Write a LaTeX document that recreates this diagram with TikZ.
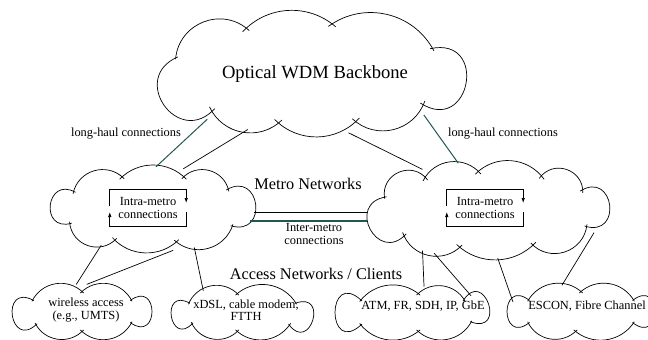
\documentclass[tikz,border=0pt]{standalone}
\usepackage{fontspec}
\setmainfont{Liberation Serif}
\usepackage{tikz}
\usetikzlibrary{shapes.geometric, arrows.meta, calc}
\definecolor{haulcolor}{RGB}{35, 85, 85}

% puffs of a cloud round node #1: base radii #2 and #3, puff height #4, list of angle pairs #5
\newcommand{\puffs}[5]{%
    \foreach \ta/\tb in {#5} {
        \pgfmathsetmacro{\sa}{\ta-1.5}
        \pgfmathsetmacro{\sb}{\tb+1.5}
        \pgfmathsetmacro{\tm}{(\ta+\tb)/2}
        \pgfmathsetmacro{\xa}{#2*cos(\sa)}
        \pgfmathsetmacro{\ya}{#3*sin(\sa)}
        \pgfmathsetmacro{\xb}{#2*cos(\sb)}
        \pgfmathsetmacro{\yb}{#3*sin(\sb)}
        \pgfmathsetmacro{\xt}{(#2+#4)*cos(\tm)}
        \pgfmathsetmacro{\yt}{(#3+#4)*sin(\tm)}
        \pgfmathsetmacro{\cc}{veclen((\xb)-(\xa), (\yb)-(\ya))}
        \pgfmathsetmacro{\hh}{veclen((\xt)-((\xa)+(\xb))/2, (\yt)-((\ya)+(\yb))/2)}
        \pgfmathsetmacro{\bn}{2*atan(2*\hh/\cc)}
        \pgfmathsetmacro{\kk}{4/3*\hh/sin(\bn)}
        \draw[puff] ($(#1)+(\sa:#2 and #3)$) to[bend left=\bn, distance=\kk pt] ($(#1)+(\sb:#2 and #3)$);
    }
}

\begin{document}
\begin{tikzpicture}[x=1pt, y=-1pt,
    net/.style={ellipse, inner sep=0pt},
    puff/.style={line width=0.7pt},
    bigtext/.style={font=\fontsize{18.6}{20}\selectfont},
    midtext/.style={font=\fontsize{16.3}{18}\selectfont},
    smalltext/.style={font=\fontsize{12.4}{12.2}\selectfont, align=center, inner sep=0pt},
    intra/.style={smalltext, minimum width=76pt, minimum height=37pt},
    link/.style={line width=0.7pt},
    haul/.style={line width=1pt, haulcolor},
    cyc/.style={-{Latex[length=5pt, width=3.5pt]}, line width=0.7pt}
]
    \useasboundingbox (0,0) rectangle (648,340);

    % Clouds
    \node[net, minimum width=309pt, minimum height=122pt] (bb) at (310,73.5) {};
    \node[net, minimum width=202pt, minimum height=84pt] (lm) at (153,209) {};
    \node[net, minimum width=241pt, minimum height=96pt] (rm) at (487.5,210) {};
    \node[net, minimum width=137pt, minimum height=54pt] (wl) at (82,311.5) {};
    \node[net, minimum width=140pt, minimum height=52pt] (xd) at (242.5,312.5) {};
    \node[net, minimum width=152pt, minimum height=52pt] (atm) at (412.5,312.5) {};
    \node[net, minimum width=145pt, minimum height=54pt] (esc) at (581,311.5) {};

    \puffs{bb}{141}{47.5}{16}{-30/37, 37/71, 71/103, 103/134, 134/199, 199/243, 243/279, 279/330}
    \puffs{lm}{91}{32}{12}{-35/30, 30/75, 75/115, 115/155, 155/210, 210/250, 250/290, 290/325}
    \puffs{rm}{108.5}{36}{14}{-30/25, 25/65, 65/105, 105/140, 140/200, 200/235, 235/265, 265/300, 300/330}
    \puffs{wl}{60}{18.5}{10}{-35/35, 35/90, 90/140, 140/215, 215/270, 270/325}
    \puffs{xd}{61.5}{17.5}{10}{-30/40, 40/95, 95/145, 145/210, 210/265, 265/330}
    \puffs{atm}{67.5}{17.5}{10}{-40/30, 30/85, 85/140, 140/220, 220/275, 275/320}
    \puffs{esc}{64}{18.5}{10}{-35/35, 35/95, 95/145, 145/215, 215/270, 270/325}

    % Labels
    \node[bigtext] (bbtxt) at (315,74) {Optical WDM Backbone};
    \node[smalltext] (lhleft) at (126,134) {long-haul connections};
    \node[smalltext] (lhright) at (503,134) {long-haul connections};
    \node[midtext] (metro) at (308,184) {Metro Networks};
    \node[smalltext] (inter) at (314,234) {Inter-metro\\connections};
    \node[midtext] (access) at (316,274) {Access Networks / Clients};
    \node[smalltext] (wltxt) at (86,310) {wireless access\\(e.g., UMTS)};
    \node[smalltext] (xdtxt) at (246,310) {xDSL, cable modem,\\FTTH};
    \node[smalltext] (atmtxt) at (423,306) {ATM, FR, SDH, IP, GbE};
    \node[smalltext] (esctxt) at (587,306) {ESCON, Fibre Channel};

    % Intra-metro loops
    \node[intra] (li) at (148,208) {Intra-metro\\connections};
    \node[intra] (ri) at (485,208) {Intra-metro\\connections};
    \foreach \b in {li, ri} {
        \draw[cyc] ([yshift=2pt]\b.west) -- (\b.north west) -- (\b.north east) -- ([yshift=5pt]\b.east);
        \draw[cyc] ([yshift=-4pt]\b.east) -- (\b.south east) -- (\b.south west) -- ([yshift=-4pt]\b.west);
    }

    % Backbone links
    \draw[haul] (bb.204) -- (lm.86);
    \draw[link] (bb.222) -- (lm.53);
    \draw[link] (bb.303) -- (rm.148);
    \draw[haul] (bb.340) -- (rm.122);

    % Inter-metro links
    \draw[link] (lm.-2) -- (lm.-2 -| rm.west);
    \draw[haul, line width=1.6pt] (lm.-7) -- (lm.-7 -| rm.west);

    % Access links
    \draw[link] (lm.215) -- (wl.102);
    \draw[link] (lm.296) -- (wl.80);
    \draw[link] (lm.317) -- (xd.151);
    \draw[link] (rm.212) -- (atm.66);
    \draw[link] (rm.219) -- (atm.16);
    \draw[link] (rm.282) -- (esc.172);
    \draw[link] (rm.348) -- (esc.126);
\end{tikzpicture}
\end{document}
